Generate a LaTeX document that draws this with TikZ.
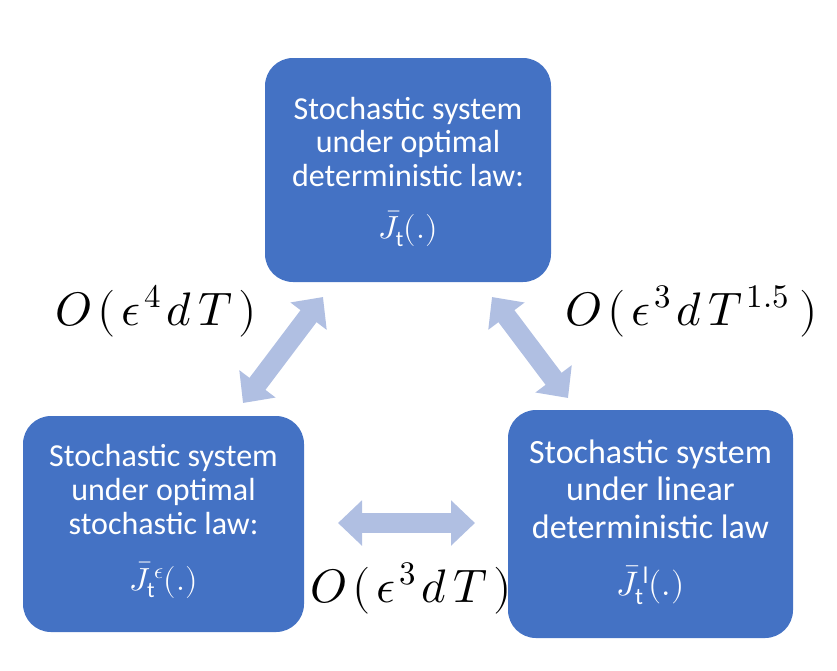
\documentclass[tikz,border=0pt]{standalone}
\usepackage{fontspec}
\usepackage{unicode-math}
\setmainfont{Carlito}
\setmathfont{Latin Modern Math}
\usetikzlibrary{arrows.meta}
\definecolor{boxblue}{HTML}{4472C4}
\definecolor{arrblue}{HTML}{B0BFE2}
\newcommand{\gapk}{\mkern2.2mu}
\begin{document}
\begin{tikzpicture}[x=1pt,y=-1pt,
  sysbox/.style={fill=boxblue, draw=none, rounded corners=28pt, inner sep=0pt},
  boxtext/.style={text=white, align=center, inner sep=0pt},
  lbl/.style={inner sep=0pt, font=\fontsize{47}{50}\selectfont},
  bigarrow/.style={draw=arrblue, line width=20pt,
    {Triangle[length=24pt,width=44pt]}-{Triangle[length=24pt,width=44pt]}}]
\useasboundingbox (0,0) rectangle (837,670);
% boxes
\node[sysbox, minimum width=286pt, minimum height=224pt] (top) at (408,170) {};
\node[sysbox, minimum width=281pt, minimum height=216pt] (left) at (163.5,524) {};
\node[sysbox, minimum width=285pt, minimum height=228pt] (right) at (650.5,524) {};
% box texts
\node[boxtext, font=\fontsize{32}{33.5}\selectfont] (toptxt) at ([yshift=-2pt]top.center) {Stochastic system\\under optimal\\deterministic law:\\[19pt]$\bar{J}_{\mathrm{t}}(.)$};
\node[boxtext, font=\fontsize{32}{34}\selectfont] (lefttxt) at ([yshift=3pt]left.center) {Stochastic system\\under optimal\\stochastic law:\\[22pt]$\bar{J}_{\mathrm{t}}^{\,\epsilon}(.)$};
\node[boxtext, font=\fontsize{34}{37.5}\selectfont] (righttxt) at ([yshift=2pt]right.center) {Stochastic system\\under linear\\deterministic law\\[20pt]$\bar{J}_{\mathrm{t}}^{\,\mathrm{l}}(.)$};
% arrows
\coordinate (l1) at (243,403); \coordinate (l2) at (323,297);
\coordinate (r1) at (492,297); \coordinate (r2) at (568,398);
\coordinate (h1) at (338,523); \coordinate (h2) at (475,523);
\draw[bigarrow] (l1) -- (l2);
\draw[bigarrow] (r1) -- (r2);
\draw[bigarrow] (h1) -- (h2);
% labels
\node[lbl, anchor=base west] (e4) at (55,325) {$O\gapk(\gapk\epsilon^{\gapk 4}\gapk d\gapk T\gapk)$};
\node[lbl, anchor=base west] (e3a) at (565,325) {$O\gapk(\gapk\epsilon^{\gapk 3}\gapk d\gapk T^{\gapk 1.5}\ )$};
\node[lbl, anchor=base west] (e3b) at (310,602) {$O\gapk(\gapk\epsilon^{\gapk 3}\gapk d\gapk T\gapk)$};
\end{tikzpicture}
\end{document}
